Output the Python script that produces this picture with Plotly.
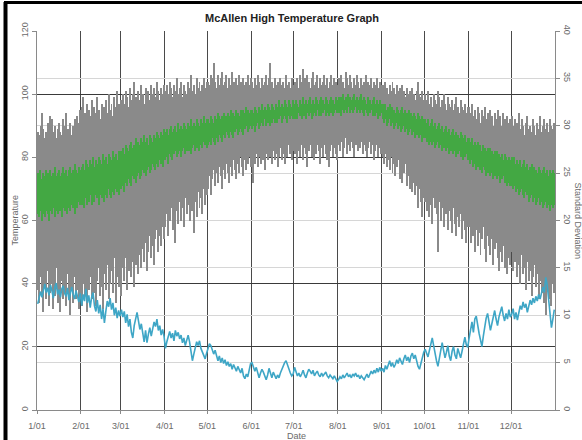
import plotly.graph_objects as go

# ---------------- data ----------------
month_labels = ["1/01", "2/01", "3/01", "4/01", "5/01", "6/01",
                "7/01", "8/01", "9/01", "10/01", "11/01", "12/01"]
month_days = [31, 28, 31, 30, 31, 30, 31, 31, 30, 31, 30, 31]

# record highest daily high (top of grey bars), deg F
rec_high = [
    88,87,90,94,89,86,88,91,87,93,92,88,90,86,89,91,88,87,92,90,94,89,88,91,87,90,92,89,93,91,95,  # Jan
    96,99,94,92,97,95,93,98,91,96,94,99,95,92,97,93,96,98,94,100,95,97,93,99,96,101,97,95,  # Feb
    98,100,97,101,99,96,102,98,100,104,99,97,101,98,103,100,97,102,99,101,98,103,100,102,99,104,101,98,102,100,103,  # Mar
    101,103,100,104,102,99,103,101,105,100,102,104,99,103,101,100,104,102,106,101,103,100,105,102,104,101,103,105,102,104,  # Apr
    104,103,106,105,110,104,102,106,103,105,107,103,104,106,102,105,103,107,104,102,105,103,106,104,102,105,103,104,106,103,105,  # May
    104,102,105,103,106,104,102,105,103,104,106,103,105,110,104,102,105,103,104,102,105,103,104,102,106,103,104,102,105,103,  # Jun
    104,103,105,102,106,104,108,105,103,106,104,102,105,107,103,104,106,102,105,103,104,106,103,105,102,104,106,103,105,104,103,  # Jul
    105,103,106,104,102,107,105,103,106,104,102,105,103,106,104,102,105,103,104,106,102,104,103,105,102,104,103,105,102,104,103,  # Aug
    103,101,104,102,100,103,101,104,102,100,103,101,102,100,103,101,99,102,100,101,99,102,100,98,101,104,100,99,101,98,  # Sep
    100,98,101,97,99,96,100,98,97,101,99,96,98,100,97,95,99,97,96,98,95,97,99,96,94,98,96,95,97,94,96,  # Oct
    96,94,97,93,95,92,96,94,91,95,93,96,92,94,91,95,93,90,94,92,95,91,93,90,94,92,89,93,91,92,  # Nov
    93,90,92,88,91,94,89,92,90,87,91,93,89,90,88,92,90,87,91,89,93,88,90,92,89,91,88,92,90,89,91,  # Dec
]

# record lowest daily high (bottom of grey bars), deg F
rec_low = [
    38,34,42,36,31,39,35,44,33,37,40,32,36,45,34,38,31,41,35,37,33,43,36,30,39,34,42,35,38,32,36,  # Jan
    33,40,36,44,31,38,42,35,47,37,33,41,45,36,39,32,43,38,46,35,40,44,37,48,34,42,39,45,  # Feb
    36,45,41,48,38,44,50,42,47,39,46,52,43,49,45,51,47,53,44,50,55,48,52,46,54,57,50,55,52,58,54,  # Mar
    58,62,55,60,64,57,61,53,63,59,66,60,64,58,67,62,65,60,68,63,56,66,61,69,64,67,62,70,65,68,  # Apr
    70,74,68,73,76,71,75,72,77,74,70,76,73,78,75,72,77,74,79,76,73,78,75,80,77,74,79,76,78,80,77,  # May
    79,72,78,81,77,80,78,82,79,76,81,79,83,80,78,82,79,81,77,80,83,79,81,78,82,80,84,81,79,82,  # Jun
    81,83,78,82,80,84,79,83,81,77,82,84,80,83,79,81,84,82,78,83,80,84,81,79,77,82,84,80,83,81,79,  # Jul
    84,82,85,80,83,86,81,84,82,85,83,80,84,86,82,83,85,81,84,82,80,83,85,81,84,79,82,84,80,83,81,  # Aug
    80,78,81,77,79,76,80,75,78,74,77,79,73,76,72,75,78,71,74,70,73,69,72,68,71,64,70,66,61,67,  # Sep
    66,63,68,61,65,59,67,64,62,50,66,60,64,58,65,62,57,63,60,56,64,59,55,61,58,62,54,60,57,53,58,  # Oct
    58,53,60,55,50,57,52,56,49,54,58,51,47,55,52,49,54,46,51,53,48,44,50,47,52,45,49,43,48,46,  # Nov
    50,44,47,52,42,46,40,49,43,45,38,47,41,44,36,42,46,39,43,35,41,37,44,34,30,39,35,42,33,40,37,  # Dec
]

# top of green band (normal range), deg F
band_top = [
    75,74,76,73,75,74,76,75,73,76,74,75,77,74,75,76,74,75,77,75,76,74,76,77,75,76,78,76,75,77,76,  # Jan
    77,78,76,79,78,77,79,78,80,77,79,78,80,79,78,81,79,80,78,81,80,79,82,80,81,79,82,81,  # Feb
    82,83,81,84,83,82,84,85,83,84,86,84,85,84,86,85,87,85,86,84,87,86,85,87,86,88,87,86,88,87,89,  # Mar
    88,89,87,89,90,88,89,90,88,91,89,90,89,91,90,89,91,90,92,90,91,90,92,91,90,92,91,93,91,92,  # Apr
    92,91,93,92,91,93,92,94,93,92,93,94,92,93,94,93,95,93,94,93,95,94,93,95,94,95,94,96,95,94,95,  # May
    95,94,96,95,94,96,95,97,95,96,95,97,96,95,97,96,95,97,96,98,96,97,96,98,97,96,98,97,96,98,  # Jun
    97,98,97,96,98,97,99,97,98,97,98,99,97,98,97,99,98,97,98,99,98,97,99,98,97,98,99,98,97,99,98,  # Jul
    99,98,99,100,98,99,98,100,99,98,99,100,98,99,98,99,100,98,99,98,97,99,98,97,98,99,97,98,97,98,97,  # Aug
    97,96,97,95,96,97,95,96,95,94,96,95,94,95,96,94,95,94,93,95,94,93,94,93,92,94,93,92,93,92,  # Sep
    92,91,92,90,91,92,90,91,89,90,91,89,90,88,89,90,88,89,87,88,89,87,88,87,86,88,87,86,87,85,86,  # Oct
    86,85,86,84,85,84,85,83,84,82,84,83,82,83,81,83,82,81,82,80,82,81,80,81,79,81,80,79,80,79,  # Nov
    80,79,80,78,79,78,79,77,78,79,77,78,76,77,78,76,77,76,75,77,76,75,76,77,75,76,74,76,75,76,75,  # Dec
]

# bottom of green band (normal range), deg F
band_bottom = [
    62,61,63,60,62,61,63,62,60,63,62,64,61,63,62,64,63,61,64,63,65,62,64,63,65,64,62,65,64,66,65,  # Jan
    65,66,64,67,65,66,68,65,67,66,68,67,65,68,67,69,66,68,67,70,68,67,69,68,70,69,68,70,  # Feb
    70,71,69,72,71,73,72,71,74,73,72,74,75,73,74,76,75,74,76,77,75,76,78,77,76,78,77,79,78,77,79,  # Mar
    79,80,78,81,80,79,81,82,80,81,82,80,82,83,81,82,83,82,81,83,84,82,83,84,82,84,83,85,84,83,  # Apr
    84,85,84,86,85,84,86,85,87,86,85,87,86,88,87,86,88,87,86,88,89,87,88,89,88,87,89,90,88,89,90,  # May
    89,90,88,90,91,89,90,91,90,92,90,91,92,90,91,92,91,93,91,92,93,91,92,93,92,91,93,92,93,92,  # Jun
    92,93,92,94,93,92,94,93,92,94,93,94,92,93,94,93,95,93,94,93,94,95,93,94,93,95,94,93,94,95,94,  # Jul
    94,95,93,95,94,95,94,96,94,95,94,95,96,94,95,94,95,94,93,95,94,93,94,95,93,94,93,94,92,93,94,  # Aug
    92,91,92,90,91,92,90,91,89,90,91,89,90,88,89,90,88,89,87,88,89,87,88,86,87,88,86,87,85,86,  # Sep
    86,85,86,84,85,84,85,83,84,85,83,84,82,83,84,82,83,81,82,83,81,82,80,81,82,80,81,79,80,81,79,  # Oct
    79,78,79,77,78,76,77,78,76,75,77,76,74,75,76,74,75,73,74,75,73,74,72,73,74,72,73,71,72,71,  # Nov
    71,70,71,69,70,68,69,70,68,67,69,68,66,67,68,66,67,65,66,67,65,66,64,65,66,64,65,63,65,64,65,  # Dec
]

# standard deviation of the daily high (right axis)
std_dev = [
    11.2,11.8,12.5,11.9,12.8,13.3,12.4,12.9,12.1,13.2,12.6,11.8,12.9,13.4,12.2,12.7,11.9,12.8,13.1,12.3,12.0,12.9,11.6,12.4,13.0,12.2,11.7,12.6,12.1,11.4,12.3,  # Jan
    11.0,12.2,11.5,12.8,11.3,12.1,10.8,11.9,12.4,11.0,10.4,11.6,10.2,11.1,9.6,10.7,9.2,10.4,11.5,10.9,11.8,10.6,11.3,10.0,10.8,9.7,10.5,9.9,  # Feb
    10.6,9.8,10.4,9.2,10.1,8.8,9.6,8.2,7.6,8.9,9.8,10.3,9.4,8.5,9.1,7.9,7.2,8.4,7.1,8.0,8.7,7.8,8.6,9.3,8.8,9.6,8.4,8.9,7.9,8.5,7.8,  # Mar
    6.5,7.2,7.9,8.3,7.6,8.1,7.3,8.4,7.8,8.2,7.5,7.9,7.1,7.6,6.8,7.4,7.9,7.2,6.4,5.2,5.9,6.6,7.2,6.8,7.3,6.5,6.1,5.7,5.4,6.0,  # Apr
    6.4,7.0,6.8,6.2,5.9,6.3,5.6,5.2,5.7,5.0,5.5,4.9,5.3,4.7,5.1,4.6,4.9,4.3,4.8,4.5,4.1,4.6,4.2,3.9,4.4,3.6,3.3,3.8,3.5,4.2,4.9,  # May
    5.0,4.6,4.1,4.5,3.8,3.4,3.9,4.3,4.0,3.5,3.2,3.7,4.4,3.9,3.4,4.0,3.6,3.3,3.7,3.4,3.9,4.3,4.6,5.0,5.2,4.7,4.2,3.9,3.6,3.8,  # Jun
    4.5,4.0,3.6,3.9,3.5,3.8,4.2,3.7,3.4,3.9,4.3,4.1,3.8,4.2,3.6,3.9,4.1,3.7,3.5,3.9,3.6,3.8,4.0,3.6,3.4,3.7,3.5,3.3,3.6,3.2,3.0,  # Jul
    3.2,3.5,3.3,3.7,3.4,3.6,3.9,3.5,3.7,3.4,3.8,3.6,3.9,3.5,3.7,3.3,3.6,3.4,3.2,3.5,3.8,3.4,3.7,4.1,3.8,4.2,3.9,4.4,4.0,4.5,4.1,  # Aug
    4.4,4.0,4.7,4.3,4.9,5.2,4.6,5.0,4.5,4.8,5.3,4.9,5.5,5.1,4.8,5.4,5.8,5.2,5.6,5.0,5.7,6.0,5.4,5.8,5.1,4.6,4.3,5.0,5.6,6.1,  # Sep
    6.4,6.0,5.6,6.3,6.9,7.6,6.8,5.9,5.2,4.6,5.5,6.4,7.1,6.3,5.5,6.1,6.8,5.7,5.2,6.2,6.7,5.8,5.4,6.5,6.0,5.5,6.2,7.0,7.7,6.9,6.6,  # Oct
    7.6,8.5,9.3,8.2,9.6,9.9,8.8,8.1,7.4,6.7,7.8,8.9,9.7,10.2,9.3,8.4,9.1,10.0,10.5,9.6,8.9,9.8,10.4,10.9,10.0,9.4,10.2,9.6,10.6,9.8,  # Nov
    10.1,10.7,9.6,10.3,9.5,10.4,11.0,10.6,11.4,10.8,11.2,10.3,10.9,11.6,11.1,11.8,11.3,12.0,11.5,12.2,11.7,12.5,13.0,12.4,14.0,13.2,11.8,10.2,8.7,9.6,10.6,  # Dec
]

n_days = sum(month_days)
for name, arr in [("rec_high", rec_high), ("rec_low", rec_low), ("band_top", band_top),
                  ("band_bottom", band_bottom), ("std_dev", std_dev)]:
    assert len(arr) == n_days, (name, len(arr))

month_start = [sum(month_days[:i]) for i in range(12)]
days = [i + 0.5 for i in range(n_days)]

# ---------------- figure ----------------
W, H = 582, 440
ML, MR, MT, MB = 37, 27, 31, 30
PW, PH = W - ML - MR, H - MT - MB

fig = go.Figure()

fig.add_trace(go.Bar(
    x=days, y=[h - l for h, l in zip(rec_high, rec_low)], base=rec_low,
    width=0.7, marker=dict(color="#8a8a8a", line=dict(width=0)),
    showlegend=False, hoverinfo="skip"))

fig.add_trace(go.Bar(
    x=days, y=[t - b for t, b in zip(band_top, band_bottom)], base=band_bottom,
    width=0.8, marker=dict(color="#43a843", line=dict(width=0)),
    showlegend=False, hoverinfo="skip"))

fig.add_trace(go.Scatter(
    x=days, y=std_dev, yaxis="y2", mode="lines",
    line=dict(color="#3ea6c6", width=1.6),
    showlegend=False, hoverinfo="skip"))

tick_font = dict(family="Liberation Sans, Arial, sans-serif", size=9, color="#6a6a6a")

fig.update_layout(
    width=W, height=H,
    margin=dict(l=ML, r=MR, t=MT, b=MB, pad=0, autoexpand=False),
    paper_bgcolor="white", plot_bgcolor="white",
    barmode="overlay", bargap=0,
    font=dict(family="Liberation Sans, Arial, sans-serif", size=9, color="#555"),
    title=dict(text="<b>McAllen High Temperature Graph</b>",
               font=dict(family="Liberation Sans, Arial, sans-serif", size=11, color="#222"),
               x=(292 - ML) / PW, xref="paper", xanchor="center",
               y=1 - 18 / H, yref="container", yanchor="middle"),
    xaxis=dict(range=[0, n_days], tickmode="array", tickvals=month_start, ticktext=month_labels,
               showgrid=True, gridcolor="#4a4a4a", gridwidth=1, zeroline=False,
               showline=True, linecolor="#8a8a8a", linewidth=1, automargin=False,
               ticks="outside", ticklen=3, tickcolor="#8a8a8a", tickfont=tick_font,
               ticklabelstandoff=4),
    yaxis=dict(range=[0, 120], dtick=20, tick0=0, automargin=False,
               showgrid=True, gridcolor="#3a3a3a", gridwidth=1, zeroline=False,
               showline=True, linecolor="#8a8a8a", linewidth=1,
               ticks="outside", ticklen=4, tickcolor="#8a8a8a",
               tickangle=-90, tickfont=tick_font),
    yaxis2=dict(range=[0, 40], dtick=5, tick0=0, overlaying="y", side="right", automargin=False,
                showgrid=True, gridcolor="#d6d6d6", gridwidth=1, zeroline=False,
                showline=True, linecolor="#8a8a8a", linewidth=1,
                ticks="outside", ticklen=4, tickcolor="#8a8a8a",
                tickangle=90, tickfont=tick_font),
)

# axis titles
title_font = dict(family="Liberation Sans, Arial, sans-serif", size=9, color="#6a6a6a")
fig.add_annotation(text="Temperature", xref="paper", yref="paper",
                   x=(14 - ML) / PW, y=0.5, textangle=-90, showarrow=False,
                   xanchor="center", yanchor="middle", font=title_font)
fig.add_annotation(text="Standard Deviation", xref="paper", yref="paper",
                   x=(578 - ML) / PW, y=0.5, textangle=90, showarrow=False,
                   xanchor="center", yanchor="middle", font=title_font)
fig.add_annotation(text="Date", xref="paper", yref="paper",
                   x=(296 - ML) / PW, y=(H - MB - 435.5) / PH, showarrow=False,
                   xanchor="center", yanchor="middle", font=title_font)

# black frame of the screenshot (left and top edges)
fig.add_shape(type="line", xref="paper", yref="paper",
              x0=(5.5 - ML) / PW, x1=(5.5 - ML) / PW,
              y0=(H - MB - 2) / PH, y1=(H - MB - H - 5) / PH,
              line=dict(color="black", width=4))
fig.add_shape(type="line", xref="paper", yref="paper",
              x0=(4 - ML) / PW, x1=(W + 5 - ML) / PW,
              y0=(H - MB - 2.5) / PH, y1=(H - MB - 2.5) / PH,
              line=dict(color="black", width=3))

fig.write_html("out.html", config={"displayModeBar": False},
               post_script="document.body.style.margin='0px';document.body.style.overflow='hidden';")
